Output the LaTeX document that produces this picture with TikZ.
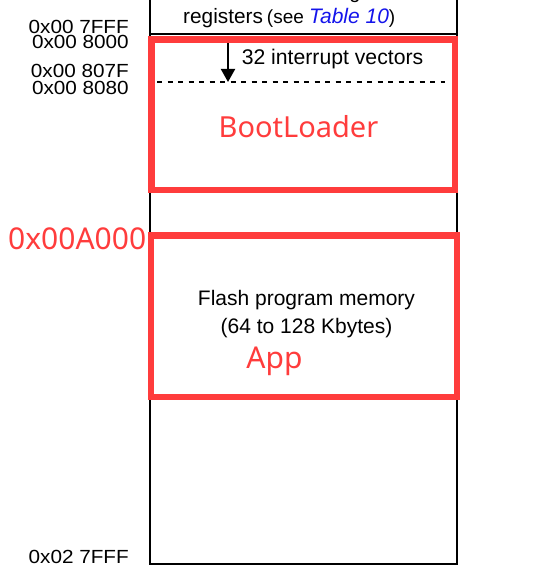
\documentclass[tikz,border=0pt]{standalone}
\usepackage{fontspec}
\setmainfont{Liberation Sans}
\newfontfamily\addrfont{Liberation Sans}[FakeStretch=1.09]
\newfontfamily\marklabelfont{Noto Sans}
\usepackage{xcolor}
\usetikzlibrary{arrows.meta,positioning}
\definecolor{markred}{RGB}{255,60,60}
\definecolor{refblue}{RGB}{20,20,235}

\begin{document}
\begin{tikzpicture}[
    x=1pt,y=-1pt,
    memcol/.style={draw,line width=2.4pt,inner sep=0pt},
    addr/.style={anchor=base east,inner sep=0pt,font=\addrfont\fontsize{19}{20}\selectfont},
    memtext/.style={anchor=base,inner sep=0pt,font=\fontsize{21}{23}\selectfont},
    redbox/.style={draw=markred,line width=6.5pt,inner sep=0pt},
    redlabel/.style={anchor=base,inner sep=0pt,text=markred,
        font=\marklabelfont\fontsize{30}{32}\selectfont},
    arrow/.style={-{Triangle[length=13pt,width=14pt]},line width=2pt},
    dashline/.style={line width=1.6pt,dash pattern=on 5pt off 5.5pt}
]
\useasboundingbox (0,0) rectangle (556,588);
% memory column
\node[memcol,minimum width=307pt,minimum height=80pt] (regs) at (303.5,-6) {};
\node[memcol,minimum width=307pt,minimum height=530pt] (flash) at (303.5,299) {};
\node[memtext,anchor=base west,font=\fontsize{20}{22}\selectfont] (regtop) at (197,-1) {CPU/SWIM/debug/ITC};
\node[memtext,anchor=base west] (regtxt) at (183,24)
    {\fontsize{20.8}{22}\selectfont registers\hspace{4pt}{\fontsize{19}{20}\selectfont(see
    \textcolor{refblue}{\fontsize{21}{22}\selectfont\itshape Table 10})}};
% addresses
\node[addr] (a7fff) at (129,34) {0x00 7FFF};
\node[addr] (a8000) at (129,49) {0x00 8000};
\node[addr] (a807f) at (129,78) {0x00 807F};
\node[addr] (a8080) at (129,95) {0x00 8080};
\node[addr] (aend) at (129,563) {0x02 7FFF};
% interrupt vectors
\coordinate (vtop) at (228,40);
\coordinate (vbot) at (228,82);
\coordinate (dl) at (157,82);
\coordinate (dr) at (445,82);
\draw[dashline] (dl) -- (dr);
\draw[arrow] (vtop) -- (vbot);
\node[memtext,font=\fontsize{21.2}{23}\selectfont] (ivec) at (332.5,65) {32 interrupt vectors};
% flash text
\node[memtext] (flashname) at (306.5,305) {Flash program memory};
\node[memtext] (flashsize) at (306.5,333) {(64 to 128 Kbytes)};
% marked regions
\node[redbox,minimum width=303.5pt,minimum height=150.5pt] (boot) at (303.25,114.75) {};
\node[redbox,minimum width=306pt,minimum height=161.5pt] (app) at (304,316) {};
\node[redlabel,font=\marklabelfont\fontsize{29}{32}\selectfont] (bootname) at (298.5,138) {BootLoader};
\node[redlabel] (appname) at (274.5,368) {App};
\node[redlabel,anchor=base west] (appaddr) at (8,249) {0x00A000};
\end{tikzpicture}
\end{document}
